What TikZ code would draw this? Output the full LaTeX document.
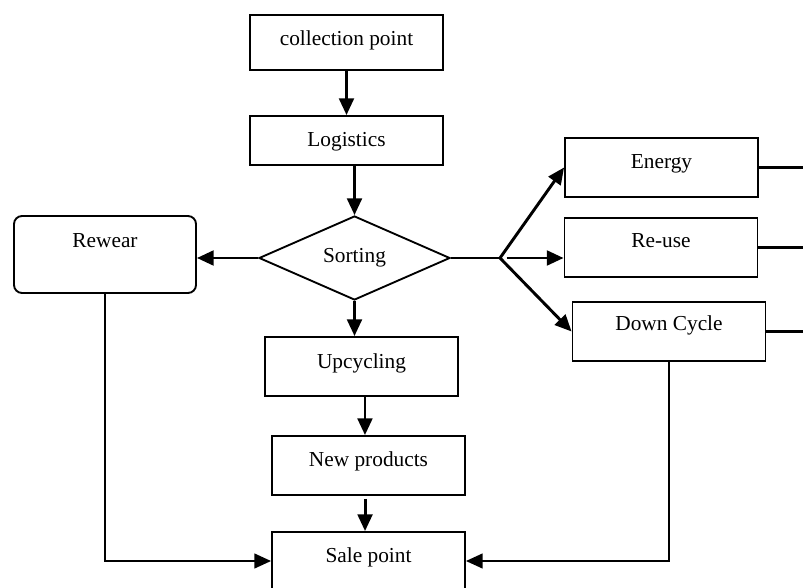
\documentclass[tikz,border=0pt]{standalone}
\usepackage{fontspec}
\setmainfont{Liberation Serif}
\usetikzlibrary{arrows.meta,positioning,shapes.geometric}

\begin{document}
\begin{tikzpicture}[
x=0.75pt,y=-0.75pt,
>={Triangle[length=12.5pt,width=11pt]},
font=\fontsize{16pt}{19pt}\selectfont,
box/.style={
	draw,
	rectangle,
	line width=1.4pt,
	minimum width=144.75pt,
	minimum height=44.25pt,
	inner sep=0pt,
	text height=12pt,
	text depth=#1
},
box/.default=11pt,
decision/.style={
	draw,
	diamond,
	line width=1.4pt,
	aspect=2.27,
	minimum width=143.25pt,
	minimum height=63pt,
	inner sep=0pt
},
flow/.style={
	->,
	line width=2.2pt
},
plain/.style={
	line width=1.6pt
}
]
\clip (0,0) rectangle (803,588);

\node[box=7pt,minimum height=41.25pt] (coll) at (346.5,42.5) {collection point};
\node[box=3pt,minimum height=36.75pt] (logi) at (346.5,140.5) {Logistics};
\node[decision] (sort) at (354.5,258) {Sorting};
\node[box=22pt,rounded corners=6pt,minimum width=136.5pt,minimum height=57.75pt] (rew) at (105,254.5) {Rewear};

\node[box] (energy) at (661.5,167.5) {Energy};
\node[box=11.7pt] (reuse) at (661,247.5) {Re-use};
\node[box=12.8pt] (down) at (669,331.5) {Down Cycle};

\node[box=9.4pt] (upcy) at (361.5,366.5) {Upcycling};
\node[box=10.8pt] (newp) at (368.5,465.5) {New products};
\node[box=9.8pt,minimum height=43.5pt] (sale) at (368.5,561) {Sale point};

\coordinate (br) at (500,258);
\coordinate (rim) at (803,0);
\coordinate (upout) at ([xshift=2.6pt]upcy.south);
\coordinate (newout) at ([xshift=-2.6pt]newp.south);

% main line
\draw[flow] (coll.south) -- (logi.north);
\draw[flow] (sort.north |- logi.south) -- (sort.north);
\draw[flow] (sort.south) -- (sort.south |- upcy.north);
\draw[flow] (upout) -- (upout |- newp.north);
\draw[flow,shorten <=2.25pt] (newout) -- (newout |- sale.north);

% branches
\draw[flow] (sort.west) -- (sort.west -| rew.east);
\draw[line width=1.4pt] (sort.east) -- (br);
\draw[flow] (br) -- (energy.west);
\draw[flow] ([xshift=5pt]br) -- (br -| reuse.west);
\draw[flow] (br) -- (down.west);
\foreach \n in {energy,reuse,down}
\draw[plain] (\n.east) -- (\n.east -| rim);

% back to the sale point
\draw[flow,line width=1.6pt] (rew.south) |- (sale.west);
\draw[flow,line width=1.6pt] (down.south) |- (sale.east);
\end{tikzpicture}
\end{document}
